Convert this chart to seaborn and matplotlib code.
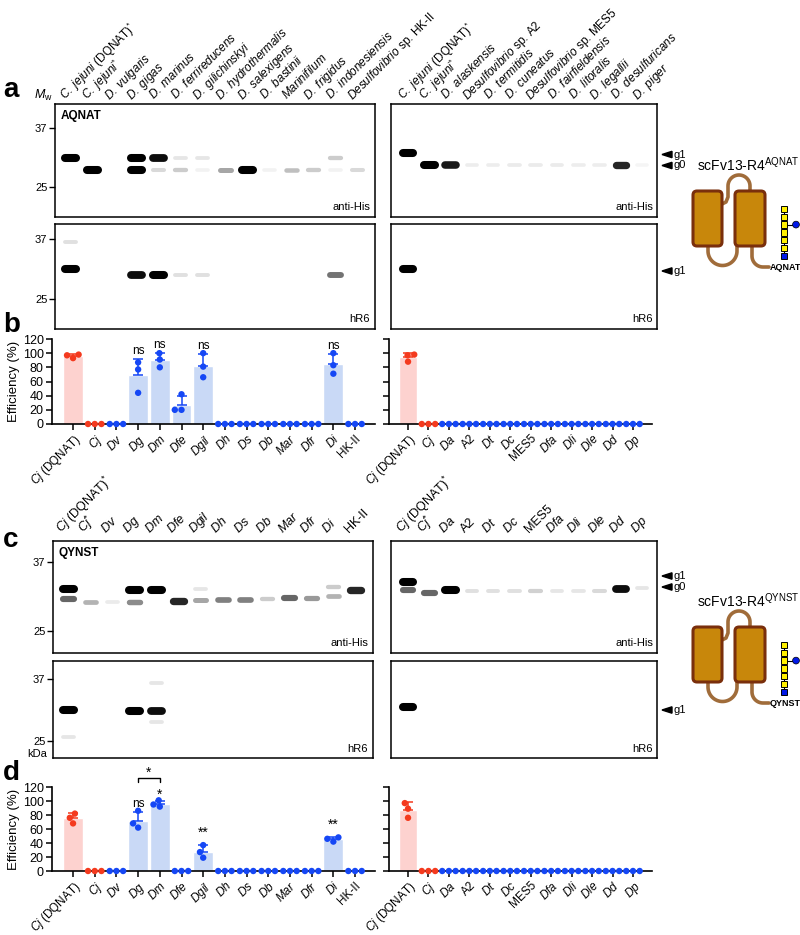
# Glycosylation screen: western blots (a, c) and efficiency bar charts (b, d)

# %%
import numpy as np
import pandas as pd
import seaborn as sns
import matplotlib.pyplot as plt
from matplotlib.patches import FancyBboxPatch, Polygon, Circle, Rectangle

sns.set_theme(style="ticks", rc={"axes.edgecolor": "black", "text.color": "black",
                                 "xtick.color": "black", "ytick.color": "black",
                                 "axes.labelcolor": "black", "axes.linewidth": 1.1})
plt.rcParams['font.family'] = ['Liberation Sans', 'DejaVu Sans']
plt.rcParams['mathtext.fontset'] = 'custom'
plt.rcParams['mathtext.rm'] = 'Liberation Sans'
plt.rcParams['mathtext.it'] = 'Liberation Sans:italic'
plt.rcParams['mathtext.bf'] = 'Liberation Sans:bold'

# %%
# lane / category names
species_left = ["C. jejuni (DQNAT)*", "C. jejuni*", "D. vulgaris", "D. gigas", "D. marinus",
                "D. ferrireducens", "D. gilichinskyi", "D. hydrothermalis", "D. salexigens",
                "D. bastinii", "Marinifilum", "D. frigidus", "D. indonesiensis",
                "Desulfovibrio sp. HK-II"]
species_right = ["C. jejuni (DQNAT)*", "C. jejuni*", "D. alaskensis", "Desulfovibrio sp. A2",
                 "D. termitidis", "D. cuneatus", "Desulfovibrio sp. MES5", "D. fairfieldensis",
                 "D. litoralis", "D. legallii", "D. desulfuricans", "D. piger"]
short_left = ["Cj (DQNAT)", "Cj", "Dv", "Dg", "Dm", "Dfe", "Dgil", "Dh", "Ds", "Db",
              "Mar", "Dfr", "Di", "HK-II"]
short_right = ["Cj (DQNAT)", "Cj", "Da", "A2", "Dt", "Dc", "MES5", "Dfa", "Dli", "Dle",
               "Dd", "Dp"]
lanes_c_left = ["Cj (DQNAT)*", "Cj*"] + short_left[2:]
lanes_c_right = ["Cj (DQNAT)*", "Cj*"] + short_right[2:]

# glycosylation efficiency (%), three replicates per strain
eff_b_left = [[93, 98, 97], [0, 0, 0], [0, 0, 0], [87, 77, 44], [100, 91, 80], [20, 42, 20],
              [100, 81, 66], [0, 0, 0], [0, 0, 0], [0, 0, 0], [0, 0, 0], [0, 0, 0],
              [100, 83, 71], [0, 0, 0]]
eff_b_right = [[98, 97, 88], [0, 0, 0], [0, 0, 0], [0, 0, 0], [0, 0, 0], [0, 0, 0],
               [0, 0, 0], [0, 0, 0], [0, 0, 0], [0, 0, 0], [0, 0, 0], [0, 0, 0]]
eff_d_left = [[82, 68, 76], [0, 0, 0], [0, 0, 0], [62, 86, 68], [101, 92, 95], [0, 0, 0],
              [37, 27, 19], [0, 0, 0], [0, 0, 0], [0, 0, 0], [0, 0, 0], [0, 0, 0],
              [42, 48, 46], [0, 0, 0]]
eff_d_right = [[97, 89, 76], [0, 0, 0], [0, 0, 0], [0, 0, 0], [0, 0, 0], [0, 0, 0],
               [0, 0, 0], [0, 0, 0], [0, 0, 0], [0, 0, 0], [0, 0, 0], [0, 0, 0]]
sig_b = {"Dg": "ns", "Dm": "ns", "Dgil": "ns", "Di": "ns"}
sig_d = {"Dg": "ns", "Dm": "*", "Dgil": "**", "Di": "**"}
bracket_d = ("Dg", "Dm", "*")

# blot bands: (lane, apparent kDa, intensity 0-1)
a_his_L = [(0, 31.0, 1.0), (1, 28.5, 1.0), (3, 31.0, 1.0), (3, 28.5, 1.0), (4, 31.0, 0.95),
           (4, 28.5, 0.15), (5, 31.0, 0.1), (5, 28.5, 0.2), (6, 31.0, 0.1), (6, 28.5, 0.05),
           (7, 28.5, 0.35), (8, 28.5, 1.0), (9, 28.5, 0.05), (10, 28.5, 0.25), (11, 28.5, 0.2),
           (12, 31.0, 0.2), (12, 28.5, 0.05), (13, 28.4, 0.15)]
a_his_R = [(0, 31.9, 1.0), (1, 29.5, 1.0), (2, 29.5, 0.9), (3, 29.5, 0.07), (4, 29.5, 0.07),
           (5, 29.5, 0.08), (6, 29.5, 0.08), (7, 29.5, 0.08), (8, 29.5, 0.07), (9, 29.5, 0.07),
           (10, 29.5, 0.85), (11, 29.5, 0.04)]
a_hr6_L = [(0, 31.0, 1.0), (0, 36.3, 0.12), (3, 29.8, 0.95), (4, 29.8, 1.0), (5, 29.8, 0.12),
           (6, 29.8, 0.12), (12, 29.8, 0.55)]
a_hr6_R = [(0, 31.0, 1.0)]
c_his_L = [(0, 32.2, 1.0), (0, 30.5, 0.6), (1, 29.9, 0.3), (2, 29.9, 0.08), (3, 32.1, 1.0),
           (3, 30.0, 0.45), (4, 32.0, 1.0), (5, 30.2, 0.85), (6, 32.3, 0.1), (6, 30.3, 0.35),
           (7, 30.4, 0.5), (8, 30.4, 0.5), (9, 30.5, 0.2), (10, 30.6, 0.6), (11, 30.7, 0.4),
           (12, 32.6, 0.2), (12, 31.0, 0.3), (13, 32.0, 0.85)]
c_his_R = [(0, 33.4, 1.0), (0, 32.0, 0.6), (1, 31.5, 0.6), (2, 32.0, 1.0), (3, 31.9, 0.12),
           (4, 31.9, 0.12), (5, 31.9, 0.12), (6, 31.9, 0.18), (7, 31.9, 0.1), (8, 31.9, 0.1),
           (9, 31.9, 0.15), (10, 32.3, 0.95), (11, 32.5, 0.1)]
c_hr6_L = [(0, 31.0, 1.0), (0, 25.8, 0.1), (3, 30.8, 1.0), (4, 30.8, 0.95), (4, 36.2, 0.1),
           (4, 28.7, 0.1)]
c_hr6_R = [(0, 31.5, 1.0)]
mw_ticks = [37, 25]

# glycan drawn next to the construct (reducing end last) and its branch
glycan_chain = ["GalNAc", "GalNAc", "GalNAc", "GalNAc", "GalNAc", "GalNAc", "Bac"]
glycan_branch = (2, "Glc")

RED_BAR, BLUE_BAR = "#fdd2cf", "#c9d9f6"
RED_DOT, BLUE_DOT = "#f43a1e", "#1547f5"
sugar_col = {"GalNAc": "#fff000", "Bac": "#0018e6", "Glc": "#0018e6"}

# %%
UPRIGHT = {"HK-II", "A2", "MES5"}


def it(s):
    return r"$\mathit{" + s.replace(" ", r"\ ") + "}$"


def fmt(name):
    star = name.endswith("*")
    if star:
        name = name[:-1]
    if " sp. " in name:
        genus, rest = name.split(" sp. ")
        s = it(genus) + " sp. " + rest
    elif name in UPRIGHT:
        s = name
    elif " (" in name:
        a, b = name.split(" (", 1)
        s = it(a) + " (" + b
    else:
        s = it(name)
    if star:
        s += r"$^{*}$"
    return s


def px_rect(x0, y0, x1, y1):
    return [x0 / 800, 1 - y1 / 935, (x1 - x0) / 800, (y1 - y0) / 935]


fig = plt.figure(figsize=(8, 9.35), dpi=100)
ov = fig.add_axes([0, 0, 1, 1])
ov.set_xlim(0, 800)
ov.set_ylim(935, 0)
ov.axis('off')


def blot(rect, bands, ylim, xlim, detector, ticks=True, tag=None):
    ax = fig.add_axes(px_rect(*rect))
    ax.set_xlim(xlim)
    ax.set_ylim(ylim)
    for lane, kda, inten in bands:
        g = max(0.0, 1 - inten)
        lw = 2.4 + 3.4 * inten
        ax.plot([lane - 0.25, lane + 0.25], [kda, kda], color=(g, g, g), lw=lw,
                solid_capstyle='round')
    ax.set_xticks([])
    if ticks:
        ax.set_yticks(mw_ticks)
        ax.tick_params(axis='y', length=4, width=1, labelsize=8, pad=1.5)
    else:
        ax.set_yticks([])
    ax.set_facecolor('white')
    ax.text(0.985, 0.045, detector, transform=ax.transAxes, ha='right', va='bottom',
            fontsize=8)
    if tag:
        ax.text(0.018, 0.95, tag, transform=ax.transAxes, ha='left', va='top',
                fontsize=8.5, fontweight='bold')
    return ax


def lane_labels(ax, names, dx, dy, fs):
    tr = ax.get_xaxis_transform()
    for i, n in enumerate(names):
        ax.text(i + dx, 1 + dy, fmt(n), transform=tr, rotation=45, rotation_mode='anchor',
                ha='left', va='baseline', fontsize=fs, clip_on=False)


def bar_panel(rect, strains, values, xlim, sig=None, bracket=None, ylabel=True):
    ax = fig.add_axes(px_rect(*rect))
    df = pd.DataFrame([(s, v) for s, vals in zip(strains, values) for v in vals],
                      columns=["strain", "eff"])
    pal_bar = {s: RED_BAR if s.startswith("Cj") else BLUE_BAR for s in strains}
    pal_dot = {s: RED_DOT if s.startswith("Cj") else BLUE_DOT for s in strains}
    sns.barplot(data=df, x="strain", y="eff", hue="strain", order=strains, hue_order=strains,
                palette=pal_bar, errorbar=None, width=0.92, saturation=1, legend=False,
                ax=ax, zorder=1)
    stats = df.groupby("strain", sort=False)["eff"].agg(["mean", "std"])
    for i, s in enumerate(strains):
        m, sd = stats.loc[s, "mean"], stats.loc[s, "std"]
        if sd > 0:
            ax.errorbar(i, m, yerr=[[0], [sd]], fmt="none", ecolor=pal_dot[s], capsize=3.5,
                        elinewidth=1.1, capthick=1.1, zorder=2)
    sns.swarmplot(data=df, x="strain", y="eff", hue="strain", order=strains,
                  hue_order=strains, palette=pal_dot, size=4.6, legend=False, ax=ax,
                  zorder=3, clip_on=False, linewidth=0)
    offs = {"ns": 1.5, "*": -1, "**": 4}
    if sig:
        for s, txt in sig.items():
            i = strains.index(s)
            top = stats.loc[s, "mean"] + stats.loc[s, "std"]
            ax.annotate(txt, (i, top), xytext=(0, offs[txt]), textcoords='offset points',
                        ha='center', va='bottom', fontsize=8.5 if txt == "ns" else 10,
                        annotation_clip=False)
    if bracket:
        i1, i2 = strains.index(bracket[0]), strains.index(bracket[1])
        ax.plot([i1, i1, i2, i2], [127, 133, 133, 127], color='black', lw=1, clip_on=False)
        ax.annotate(bracket[2], ((i1 + i2) / 2, 133), xytext=(0, -1),
                    textcoords='offset points', ha='center', va='bottom', fontsize=10,
                    annotation_clip=False)
    ax.set_ylim(0, 120)
    ax.set_yticks(range(0, 121, 20))
    ax.set_xlim(xlim)
    sns.despine(ax=ax)
    ax.spines['left'].set_linewidth(1.2)
    ax.spines['bottom'].set_linewidth(1.2)
    ax.tick_params(length=4, width=1.1, labelsize=9, pad=2)
    ax.set_xticks(range(len(strains)))
    ax.set_xticklabels([fmt(s) for s in strains], rotation=45, ha='right',
                       rotation_mode='anchor', fontsize=8.5)
    ax.set_xlabel("")
    if ylabel:
        ax.set_ylabel("Efficiency (%)", fontsize=9.5, labelpad=2)
    else:
        ax.set_ylabel("")
        ax.set_yticklabels([])
    return ax


def g_arrow(y, lab):
    ov.add_patch(Polygon([(662, y), (672, y - 3.2), (672, y + 3.2)], closed=True,
                         color='black'))
    ov.text(673, y, lab, va='center', ha='left', fontsize=8)


def construct(dy, tag):
    ov.text(697, 165 + dy, "scFv13-R4" + r"$^{\mathrm{" + tag + "}}$", fontsize=10,
            va='center')
    lc = dict(color='#a06c3a', lw=2.6, solid_capstyle='round', zorder=2)
    # loop over the top
    t = np.linspace(np.pi, 0, 30)
    xs = np.r_[722, 726, 728, 739 + 11 * np.cos(t), 750]
    ys = np.r_[204, 202, 197, 186 - 11 * np.sin(t), 193] + dy
    ov.plot(xs, ys, **lc)
    # loop underneath
    t = np.linspace(0, np.pi, 30)
    xs = np.r_[708, 722.5 - 14.5 * np.cos(t), 737]
    ys = np.r_[244, 251 + 14.5 * np.sin(t), 244] + dy
    ov.plot(xs, ys, **lc)
    # C-terminal tail carrying the sequon
    t = np.linspace(np.pi, np.pi / 2, 20)
    xs = np.r_[752, 763 + 11 * np.cos(t), 769]
    ys = np.r_[244, 256 + 11 * np.sin(t), 267] + dy
    ov.plot(xs, ys, **lc)
    for x0, w in [(693, 29), (735, 30)]:
        ov.add_patch(FancyBboxPatch((x0, 191 + dy), w, 55,
                                    boxstyle="round,pad=0,rounding_size=4",
                                    facecolor='#c8870b', edgecolor='#7a2f0c', lw=2.2,
                                    zorder=3))
    ov.text(770, 267 + dy, tag, fontsize=6.5, fontweight='bold', va='center', ha='left')
    # glycan
    step = 7.8
    y_top = 209 + dy
    ov.plot([784, 784], [y_top, y_top + step * (len(glycan_chain) - 1)], color='black',
            lw=0.8, zorder=3)
    bi, bsug = glycan_branch
    ov.plot([784, 796], [y_top + step * bi] * 2, color='black', lw=0.8, zorder=3)
    for k, sug in enumerate(glycan_chain):
        ov.add_patch(Rectangle((784 - 3.2, y_top + step * k - 3.2), 6.4, 6.4,
                               facecolor=sugar_col[sug], edgecolor='black', lw=0.7,
                               zorder=4))
    ov.add_patch(Circle((796, y_top + step * bi), 3.4, facecolor=sugar_col[bsug],
                        edgecolor='black', lw=0.5, zorder=4))


# %%
# panel a
xl_left, xl_right = (-0.68, 13.77), (-0.8, 11.7)
ax = blot((55, 104, 375, 217), a_his_L, (18.9, 41.9), xl_left, "anti-His", tag="AQNAT")
lane_labels(ax, species_left, -0.23, 0.035, 8.5)
ax = blot((391, 104, 657, 217), a_his_R, (18.9, 41.9), xl_right, "anti-His", ticks=False)
lane_labels(ax, species_right, -0.23, 0.035, 8.5)
blot((55, 224, 375, 329), a_hr6_L, (19, 40), xl_left, "hR6")
blot((391, 224, 657, 329), a_hr6_R, (19, 40), xl_right, "hR6", ticks=False)

# panel b
bar_panel((52, 339, 375, 424), short_left, eff_b_left, (-0.97, 13.92), sig=sig_b)
bar_panel((389, 339, 652, 424), short_right, eff_b_right, (-0.93, 11.93), ylabel=False)

# panel c
ax = blot((53, 541, 373, 653), c_his_L, (21.1, 40.6), xl_left, "anti-His", tag="QYNST")
lane_labels(ax, lanes_c_left, -0.32, 0.07, 9)
ax = blot((391, 541, 657, 653), c_his_R, (21.1, 40.6), xl_right, "anti-His", ticks=False)
lane_labels(ax, lanes_c_right, -0.32, 0.07, 9)
blot((53, 661, 373, 758), c_hr6_L, (21.7, 40.4), xl_left, "hR6")
blot((391, 661, 657, 758), c_hr6_R, (21.7, 40.4), xl_right, "hR6", ticks=False)

# panel d
bar_panel((52, 787, 375, 871), short_left, eff_d_left, (-0.97, 13.92), sig=sig_d,
          bracket=bracket_d)
bar_panel((389, 787, 652, 871), short_right, eff_d_right, (-0.93, 11.93), ylabel=False)

# labels, markers and constructs
for letter, y in [("a", 97), ("b", 332), ("c", 547), ("d", 780)]:
    ov.text(3, y, letter, fontsize=20, fontweight='bold', va='baseline')
ov.text(34, 99, r"$M_{\mathrm{w}}$", fontsize=9, va='baseline')
ov.text(27, 757, "kDa", fontsize=8, va='baseline')
g_arrow(154.5, "g1")
g_arrow(165.5, "g0")
g_arrow(271, "g1")
g_arrow(576, "g1")
g_arrow(587, "g0")
g_arrow(710, "g1")
construct(0, "AQNAT")
construct(436, "QYNST")

fig.savefig("out.png", dpi=100)
